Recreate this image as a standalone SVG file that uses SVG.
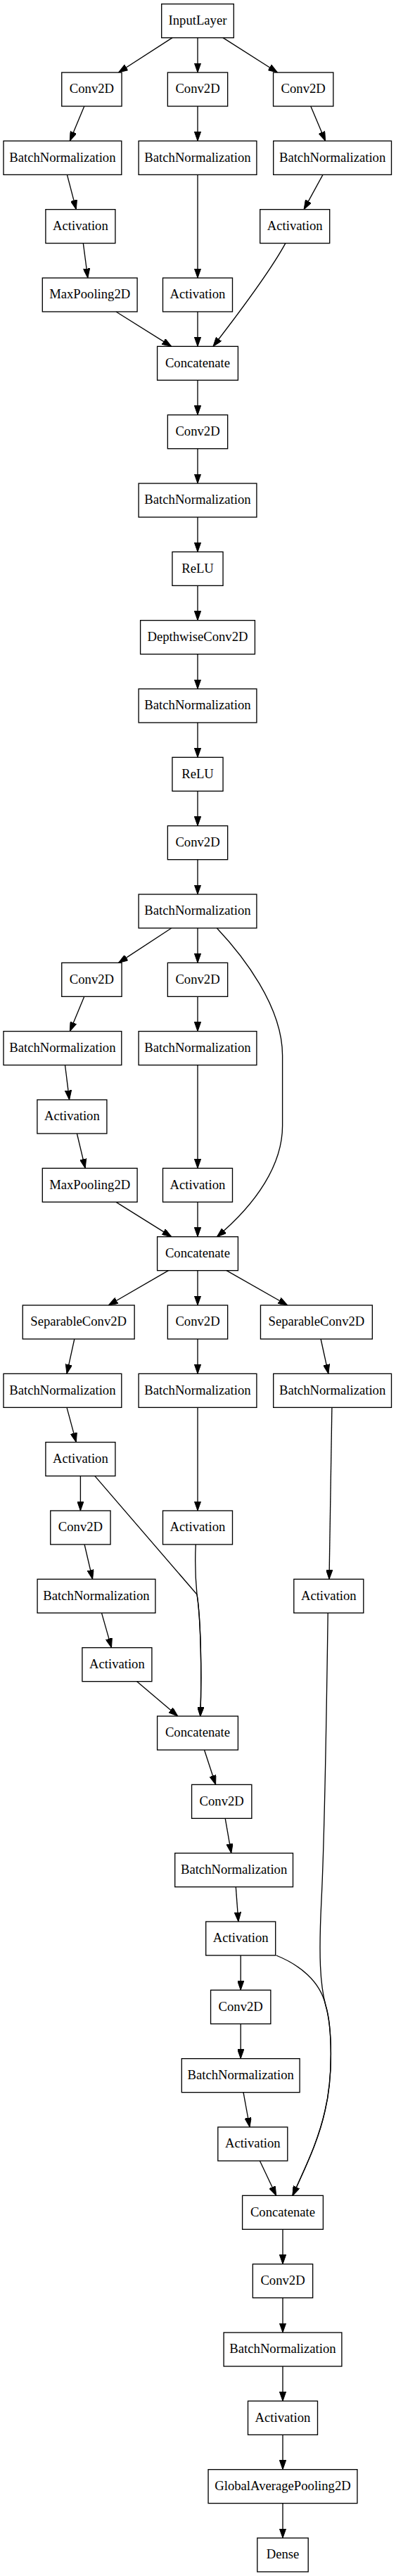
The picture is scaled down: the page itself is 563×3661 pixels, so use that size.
<svg xmlns="http://www.w3.org/2000/svg" width="563" height="3661" viewBox="0 0 563 3661">
<style>
.n rect{fill:#fff;stroke:#000;stroke-width:1.33}
.n text{font-family:"Liberation Serif","Times New Roman",serif;font-size:18.67px;text-anchor:middle;fill:#000}
.e path{fill:none;stroke:#000;stroke-width:1.33;marker-end:url(#a)}
</style>
<defs>
<marker id="a" viewBox="0 0 13.33 9.33" refX="13.33" refY="4.67" markerWidth="13.33" markerHeight="9.33" markerUnits="userSpaceOnUse" orient="auto">
<path d="M0,0 L13.33,4.67 L0,9.33 z" fill="#000" stroke="#000" stroke-width="1"/>
</marker>
</defs>
<rect x="0" y="0" width="563" height="3661" fill="#fff"/>
<g id="edges" class="e">
<path d="M245,53.67 L168.5,103"/>
<path d="M281,53.67 L281,103"/>
<path d="M317,53.67 L394.5,103"/>
<path d="M119.8,151 L99.3,200.33"/>
<path d="M281,151 L281,200.33"/>
<path d="M441.8,151 L462.6,200.33"/>
<path d="M95.4,248.33 L108.3,297.67"/>
<path d="M281,248.33 L281,395"/>
<path d="M459,248.33 L432.1,297.67"/>
<path d="M118.3,345.67 L124.8,395"/>
<path d="M165,443 L243.8,492.33"/>
<path d="M281,443 L281,492.33"/>
<path d="M405.9,345.67 C390,375 355,425 303,492.33"/>
<path d="M281,540.33 L281,589.67"/>
<path d="M281,637.67 L281,687"/>
<path d="M281,735 L281,784.33"/>
<path d="M281,832.33 L281,881.67"/>
<path d="M281,929.67 L281,979"/>
<path d="M281,1027 L281,1076.33"/>
<path d="M281,1124.33 L281,1173.67"/>
<path d="M281,1221.67 L281,1271"/>
<path d="M243.8,1319 L168.5,1368.33"/>
<path d="M281,1319 L281,1368.33"/>
<path d="M308.3,1319 C345,1358 401.6,1430 401.6,1500 L401.6,1600 C401.6,1655 365,1710 308.4,1757.67"/>
<path d="M119.8,1416.33 L99.3,1465.67"/>
<path d="M281,1416.33 L281,1465.67"/>
<path d="M92.5,1513.67 L98.6,1563"/>
<path d="M281,1513.67 L281,1660.33"/>
<path d="M109.4,1611 L121.2,1660.33"/>
<path d="M165,1708.33 L243.8,1757.67"/>
<path d="M281,1708.33 L281,1757.67"/>
<path d="M239.5,1805.67 L154.2,1855"/>
<path d="M281,1805.67 L281,1855"/>
<path d="M322,1805.67 L408.8,1855"/>
<path d="M105.8,1903 L95,1952.33"/>
<path d="M281,1903 L281,1952.33"/>
<path d="M456.1,1903 L466.9,1952.33"/>
<path d="M95,2000.33 L108.3,2049.67"/>
<path d="M281,2000.33 L281,2147"/>
<path d="M471.9,2000.33 L468,2244.33"/>
<path d="M114.4,2097.67 L114.4,2147"/>
<path d="M134.8,2097.67 L280,2266 C285.5,2300 287,2380 284.8,2439"/>
<path d="M278.3,2195 C277,2220 278,2245 280,2266 C285.5,2300 287,2380 284.8,2439"/>
<path d="M120.1,2195 L131.6,2244.33"/>
<path d="M144.5,2292.33 L158.5,2341.67"/>
<path d="M194.7,2389.67 L252.8,2439"/>
<path d="M290.5,2487 L306.6,2536.33"/>
<path d="M320.2,2584.33 L328.8,2633.67"/>
<path d="M335.3,2681.67 L338.9,2731"/>
<path d="M342.2,2779 L342.2,2828.33"/>
<path d="M342.2,2876.33 L342.2,2925.67"/>
<path d="M346,2973.67 L355,3023"/>
<path d="M369.4,3071 L392.7,3120.33"/>
<path d="M392.7,2779 C425,2792 455,2815 463,2850 C472,2880 474,2950 462,3000 C452,3045 432,3085 416,3120.33"/>
<path d="M466.2,2292.33 C464,2450 462,2600 457,2700 C453,2780 455,2820 463,2850 C472,2880 474,2950 462,3000 C452,3045 432,3085 416,3120.33"/>
<path d="M402,3168.33 L402,3217.67"/>
<path d="M402,3265.67 L402,3315"/>
<path d="M402,3363 L402,3412.33"/>
<path d="M402,3460.33 L402,3509.67"/>
<path d="M402,3557.67 L402,3607"/>
</g>
<g id="n1" class="n"><rect x="229.7" y="5.67" width="102.6" height="48"/><text x="281" y="34.97">InputLayer</text></g>
<g id="n2" class="n"><rect x="87.75" y="103" width="85.3" height="48"/><text x="130.4" y="132.3">Conv2D</text></g>
<g id="n3" class="n"><rect x="238.35" y="103" width="85.3" height="48"/><text x="281" y="132.3">Conv2D</text></g>
<g id="n4" class="n"><rect x="388.55" y="103" width="85.3" height="48"/><text x="431.2" y="132.3">Conv2D</text></g>
<g id="n5" class="n"><rect x="5" y="200.33" width="167.8" height="48"/><text x="88.9" y="229.63">BatchNormalization</text></g>
<g id="n6" class="n"><rect x="197.1" y="200.33" width="167.8" height="48"/><text x="281" y="229.63">BatchNormalization</text></g>
<g id="n7" class="n"><rect x="388.7" y="200.33" width="167.8" height="48"/><text x="472.6" y="229.63">BatchNormalization</text></g>
<g id="n8" class="n"><rect x="64.9" y="297.67" width="99" height="48"/><text x="114.4" y="326.97">Activation</text></g>
<g id="n9" class="n"><rect x="369.7" y="297.67" width="99" height="48"/><text x="419.2" y="326.97">Activation</text></g>
<g id="n10" class="n"><rect x="60.3" y="395" width="134.8" height="48"/><text x="127.7" y="424.3">MaxPooling2D</text></g>
<g id="n11" class="n"><rect x="231.5" y="395" width="99" height="48"/><text x="281" y="424.3">Activation</text></g>
<g id="n12" class="n"><rect x="223.6" y="492.33" width="114.8" height="48"/><text x="281" y="521.63">Concatenate</text></g>
<g id="n13" class="n"><rect x="238.35" y="589.67" width="85.3" height="48"/><text x="281" y="618.97">Conv2D</text></g>
<g id="n14" class="n"><rect x="197.1" y="687" width="167.8" height="48"/><text x="281" y="716.3">BatchNormalization</text></g>
<g id="n15" class="n"><rect x="244.95" y="784.33" width="72.1" height="48"/><text x="281" y="813.63">ReLU</text></g>
<g id="n16" class="n"><rect x="199.6" y="881.67" width="162.8" height="48"/><text x="281" y="910.97">DepthwiseConv2D</text></g>
<g id="n17" class="n"><rect x="197.1" y="979" width="167.8" height="48"/><text x="281" y="1008.3">BatchNormalization</text></g>
<g id="n18" class="n"><rect x="244.95" y="1076.33" width="72.1" height="48"/><text x="281" y="1105.63">ReLU</text></g>
<g id="n19" class="n"><rect x="238.35" y="1173.67" width="85.3" height="48"/><text x="281" y="1202.97">Conv2D</text></g>
<g id="n20" class="n"><rect x="197.1" y="1271" width="167.8" height="48"/><text x="281" y="1300.3">BatchNormalization</text></g>
<g id="n21" class="n"><rect x="87.75" y="1368.33" width="85.3" height="48"/><text x="130.4" y="1397.63">Conv2D</text></g>
<g id="n22" class="n"><rect x="238.35" y="1368.33" width="85.3" height="48"/><text x="281" y="1397.63">Conv2D</text></g>
<g id="n23" class="n"><rect x="5" y="1465.67" width="167.8" height="48"/><text x="88.9" y="1494.97">BatchNormalization</text></g>
<g id="n24" class="n"><rect x="197.1" y="1465.67" width="167.8" height="48"/><text x="281" y="1494.97">BatchNormalization</text></g>
<g id="n25" class="n"><rect x="52.9" y="1563" width="99" height="48"/><text x="102.4" y="1592.3">Activation</text></g>
<g id="n26" class="n"><rect x="60.3" y="1660.33" width="134.8" height="48"/><text x="127.7" y="1689.63">MaxPooling2D</text></g>
<g id="n27" class="n"><rect x="231.5" y="1660.33" width="99" height="48"/><text x="281" y="1689.63">Activation</text></g>
<g id="n28" class="n"><rect x="223.6" y="1757.67" width="114.8" height="48"/><text x="281" y="1786.97">Concatenate</text></g>
<g id="n29" class="n"><rect x="32.25" y="1855" width="158.9" height="48"/><text x="111.7" y="1884.3">SeparableConv2D</text></g>
<g id="n30" class="n"><rect x="238.35" y="1855" width="85.3" height="48"/><text x="281" y="1884.3">Conv2D</text></g>
<g id="n31" class="n"><rect x="370.45" y="1855" width="158.9" height="48"/><text x="449.9" y="1884.3">SeparableConv2D</text></g>
<g id="n32" class="n"><rect x="5" y="1952.33" width="167.8" height="48"/><text x="88.9" y="1981.63">BatchNormalization</text></g>
<g id="n33" class="n"><rect x="197.1" y="1952.33" width="167.8" height="48"/><text x="281" y="1981.63">BatchNormalization</text></g>
<g id="n34" class="n"><rect x="388.7" y="1952.33" width="167.8" height="48"/><text x="472.6" y="1981.63">BatchNormalization</text></g>
<g id="n35" class="n"><rect x="64.9" y="2049.67" width="99" height="48"/><text x="114.4" y="2078.97">Activation</text></g>
<g id="n36" class="n"><rect x="71.75" y="2147" width="85.3" height="48"/><text x="114.4" y="2176.3">Conv2D</text></g>
<g id="n37" class="n"><rect x="231.5" y="2147" width="99" height="48"/><text x="281" y="2176.3">Activation</text></g>
<g id="n38" class="n"><rect x="53.1" y="2244.33" width="167.8" height="48"/><text x="137" y="2273.63">BatchNormalization</text></g>
<g id="n39" class="n"><rect x="417.8" y="2244.33" width="99" height="48"/><text x="467.3" y="2273.63">Activation</text></g>
<g id="n40" class="n"><rect x="116.9" y="2341.67" width="99" height="48"/><text x="166.4" y="2370.97">Activation</text></g>
<g id="n41" class="n"><rect x="223.6" y="2439" width="114.8" height="48"/><text x="281" y="2468.3">Concatenate</text></g>
<g id="n42" class="n"><rect x="272.55" y="2536.33" width="85.3" height="48"/><text x="315.2" y="2565.63">Conv2D</text></g>
<g id="n43" class="n"><rect x="248.7" y="2633.67" width="167.8" height="48"/><text x="332.6" y="2662.97">BatchNormalization</text></g>
<g id="n44" class="n"><rect x="292.7" y="2731" width="99" height="48"/><text x="342.2" y="2760.3">Activation</text></g>
<g id="n45" class="n"><rect x="299.55" y="2828.33" width="85.3" height="48"/><text x="342.2" y="2857.63">Conv2D</text></g>
<g id="n46" class="n"><rect x="258.3" y="2925.67" width="167.8" height="48"/><text x="342.2" y="2954.97">BatchNormalization</text></g>
<g id="n47" class="n"><rect x="309.8" y="3023" width="99" height="48"/><text x="359.3" y="3052.3">Activation</text></g>
<g id="n48" class="n"><rect x="344.6" y="3120.33" width="114.8" height="48"/><text x="402" y="3149.63">Concatenate</text></g>
<g id="n49" class="n"><rect x="359.35" y="3217.67" width="85.3" height="48"/><text x="402" y="3246.97">Conv2D</text></g>
<g id="n50" class="n"><rect x="318.1" y="3315" width="167.8" height="48"/><text x="402" y="3344.3">BatchNormalization</text></g>
<g id="n51" class="n"><rect x="352.5" y="3412.33" width="99" height="48"/><text x="402" y="3441.63">Activation</text></g>
<g id="n52" class="n"><rect x="296.05" y="3509.67" width="211.9" height="48"/><text x="402" y="3538.97">GlobalAveragePooling2D</text></g>
<g id="n53" class="n"><rect x="365.8" y="3607" width="72.4" height="48"/><text x="402" y="3636.3">Dense</text></g>
</svg>
